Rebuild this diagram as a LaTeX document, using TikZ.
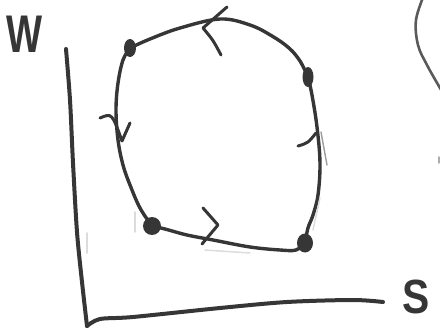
\documentclass[tikz,border=0pt]{standalone}
\usepackage{fontspec}
\setmainfont{Liberation Sans}
\usetikzlibrary{shapes.geometric}
\definecolor{inkc}{HTML}{363636}
\definecolor{ghostc}{HTML}{DCDCDC}
\definecolor{softc}{HTML}{5A5A5A}
\begin{document}
\begin{tikzpicture}[x=1pt,y=-1pt,line cap=round,line join=round,
  loopline/.style={draw=inkc,line width=3.4pt},
  axisline/.style={draw=inkc,line width=4pt},
  chev/.style={draw=inkc,line width=3pt},
  ghost/.style={draw=ghostc,line width=1.5pt},
  dotnode/.style={ellipse,fill=inkc,draw=none,inner sep=0pt},
  lab/.style={text=inkc,inner sep=0pt}]
\useasboundingbox (0,0) rectangle (440,329);
% labels
\node[lab,font=\bfseries\fontsize{53}{53}\selectfont,xscale=0.72] (w) at (25,34) {W};
\node[lab,font=\bfseries\fontsize{48}{48}\selectfont,xscale=0.85] (s) at (416,297) {S};
% axes
\coordinate (ytop) at (66,49);
\coordinate (orig) at (87,326);
\coordinate (xend) at (383,302);
\draw[axisline] plot[smooth,tension=0.5] coordinates {(ytop) (70,100) (73,163) (77,232) (82,282) (orig)};
\draw[axisline] plot[smooth,tension=0.5] coordinates {(orig) (100,319) (133,317) (220,308) (287,302) (353,300) (xend)};
% state points
\node[dotnode,minimum width=12pt,minimum height=18pt] (tl) at (130,48) {};
\node[dotnode,minimum width=11pt,minimum height=20pt] (tr) at (308,77) {};
\node[dotnode,minimum width=18pt,minimum height=18pt] (bl) at (152,226) {};
\node[dotnode,minimum width=16pt,minimum height=19pt] (br) at (305,243) {};
% loop edges
\draw[loopline] plot[smooth,tension=0.6] coordinates {(tl.center) (150,39) (180,28) (220,19) (250,25) (272,36) (289,48) (300,61) (tr.center)};
\draw[loopline] plot[smooth,tension=0.6] coordinates {(tr.center) (312,95) (317,127) (320,163) (318,195) (313,215) (308,228) (br.center)};
\draw[loopline] plot[smooth,tension=0.6] coordinates {(bl.center) (165,229) (187,235) (213,240) (250,247) (280,250) (296,250) (br.center)};
\draw[loopline] plot[smooth,tension=0.6] coordinates {(tl.center) (123,60) (118,83) (116,110) (118,140) (123,165) (130,185) (140,208) (bl.center)};
% direction marks
\draw[chev] (227,7) -- (203,28) .. controls (213,40) .. (221,55);
\draw[chev] (100,118) .. controls (112,113) .. (122,141) -- (130,123);
\draw[chev] (298,146) .. controls (308,143) .. (316,133);
\draw[chev] (203,208) -- (218,225) -- (202,244);
% faint traces
\draw[ghost] (205,250) -- (250,253);
\draw[ghost] (320,198) -- (313,230);
\draw[ghost,draw=softc!60,line width=1.4pt] (321,132) -- (327,165);
\draw[ghost] (135,212) -- (135,232);
\draw[ghost] (87,233) -- (87,253);
% partial curve at the right edge
\begin{scope}
\clip (0,0) rectangle (440,329);
\draw[draw=softc,line width=2.6pt] plot[smooth,tension=0.6] coordinates {(424,-5) (416,20) (418,45) (427,65) (440,88) (446,98)};
\end{scope}
\draw[ghost,draw=softc!50] (439,157) -- (439,163);
\end{tikzpicture}
\end{document}
